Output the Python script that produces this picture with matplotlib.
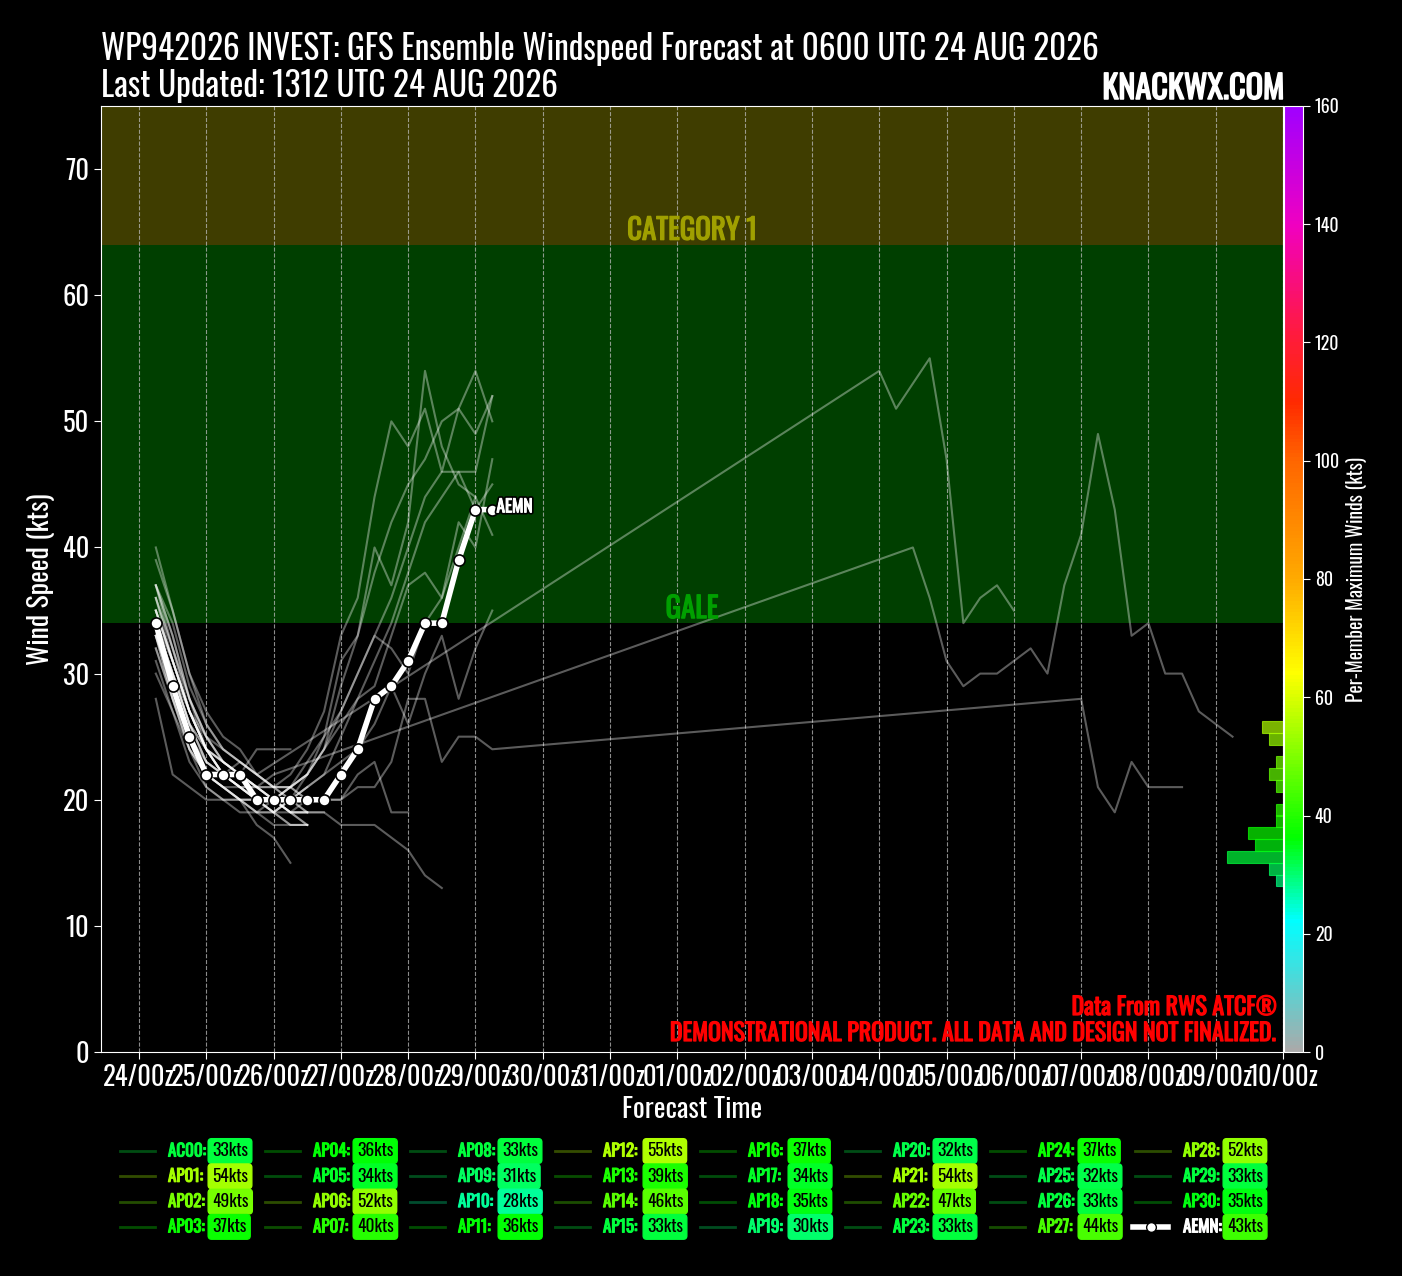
import matplotlib
matplotlib.use("Agg")
import matplotlib.pyplot as plt
import matplotlib.dates as mdates
import matplotlib.patheffects as pe
from matplotlib import font_manager
from matplotlib.colors import LinearSegmentedColormap, Normalize
from matplotlib.cm import ScalarMappable
from matplotlib.lines import Line2D
import numpy as np
from datetime import datetime, timedelta

init = datetime(2026, 8, 24, 6)

names = ['AC00', 'AP01', 'AP02', 'AP03', 'AP04', 'AP05', 'AP06', 'AP07',
         'AP08', 'AP09', 'AP10', 'AP11', 'AP12', 'AP13', 'AP14', 'AP15',
         'AP16', 'AP17', 'AP18', 'AP19', 'AP20', 'AP21', 'AP22', 'AP23',
         'AP24', 'AP25', 'AP26', 'AP27', 'AP28', 'AP29', 'AP30']
peaks = [33, 54, 49, 37, 36, 34, 52, 40, 33, 31, 28, 36, 55, 39, 46, 33,
         37, 34, 35, 30, 32, 54, 47, 33, 37, 32, 33, 44, 52, 33, 35]

# member winds (kts), six-hourly from 0600 UTC 24 AUG unless hours given
ac00 = [33, 28, 24, 22, 21, 20, 20, 19, 18, 18]
ap01 = [34, 30, 26, 23, 22, 22, 21, 20, 20, 22, 25, 31, 33, 40, 37, 42, 54, 48, 45, 44, 41]
ap02 = [36, 31, 27, 24, 22, 21, 21, 22, 40, 36, 31, 29, 30, 30, 31, 32, 30, 37,
        41, 49, 43, 33, 34, 30, 30, 27, 26, 25]
ap02_hours = [0, 6, 12, 18, 24, 30, 36, 42, 270, 276, 282, 288, 294, 300, 306, 312,
              318, 324, 330, 336, 342, 348, 354, 360, 366, 372, 378, 384]
ap03 = [37, 33, 28, 25, 23, 22, 21, 20, 19, 18]
ap04 = [36, 32, 27, 24, 23, 22, 20, 19, 20, 19]
ap05 = [34, 30, 26, 24, 22, 23, 22, 21, 20, 20]
ap06 = [35, 31, 27, 25, 24, 23, 22, 21, 21, 22, 24, 27, 30, 33, 36, 40, 44, 46, 46, 46, 52]
ap07 = [40, 35, 30, 26, 24, 23, 22, 21, 20, 19, 19]
ap08 = [33, 28, 24, 21, 20, 20, 19, 18, 18, 18]
ap09 = [31, 27, 23, 21, 20, 20, 19, 19, 20, 21]
ap10 = [28, 22, 21, 20, 20, 19, 19, 19, 20, 20, 20, 20, 21, 21, 23, 28, 28, 23, 25, 25,
        24, 28, 21, 19, 23, 21, 21, 21]
ap10_hours = [0, 6, 12, 18, 24, 30, 36, 42, 48, 54, 60, 66, 72, 78, 84, 90, 96, 102,
              108, 114, 120, 330, 336, 342, 348, 354, 360, 366]
ap11 = [36, 32, 28, 25, 23, 22, 21, 20, 20, 21, 22, 23, 24, 26, 29, 26, 30, 33, 28, 32, 35]
ap12 = [37, 34, 29, 26, 24, 23, 22, 54, 51, 53, 55, 47, 34, 36, 37, 35]
ap12_hours = [0, 6, 12, 18, 24, 30, 36, 258, 264, 270, 276, 282, 288, 294, 300, 306]
ap13 = [39, 35, 30, 27, 25, 24, 22, 21, 21, 20, 20]
ap14 = [35, 31, 27, 24, 22, 21, 21, 20, 21, 22, 24, 26, 28, 31, 34, 38, 42, 44, 46, 43, 45]
ap15 = [33, 29, 25, 23, 22, 21, 20, 20, 19, 19]
ap16 = [37, 33, 28, 24, 22, 21, 20, 20, 21, 22]
ap17 = [34, 30, 27, 24, 22, 21, 20, 19, 18, 18]
ap18 = [35, 31, 27, 24, 23, 22, 24, 24, 24]
ap19 = [30, 27, 24, 22, 21, 20, 20, 19, 19, 19]
ap20 = [32, 28, 25, 22, 21, 20, 18, 17, 15]
ap21 = [34, 31, 27, 24, 23, 22, 21, 21, 22, 24, 27, 33, 36, 44, 50, 48, 51, 46, 51, 54, 50]
ap22 = [34, 30, 26, 24, 22, 21, 20, 20, 20, 21, 22, 25, 28, 29, 33, 37, 38, 36, 42, 40, 47]
ap23 = [33, 29, 25, 22, 21, 20, 20, 19, 20, 20]
ap24 = [37, 32, 28, 25, 23, 22, 21, 20, 19, 19]
ap25 = [32, 28, 24, 22, 21, 21, 20, 20, 19, 18]
ap26 = [33, 30, 26, 23, 22, 21, 20, 20, 21, 20]
ap27 = [34, 30, 26, 23, 22, 22, 21, 20, 21, 23, 25, 27, 30, 33, 32, 30, 34, 36, 40, 44]
ap28 = [35, 31, 27, 24, 23, 22, 21, 21, 21, 22, 24, 29, 33, 38, 42, 45, 47, 50, 51, 49, 52]
ap29 = [33, 29, 25, 22, 21, 20, 19, 20, 19, 19, 19, 18, 18, 18, 17, 16, 14, 13]
ap30 = [35, 31, 27, 24, 22, 21, 20, 20, 19, 20, 20, 20, 22, 23, 19, 19]

aemn = [34, 29, 25, 22, 22, 22, 20, 20, 20, 20, 20, 22, 24, 28, 29, 31, 34, 34, 39, 43, 43]
aemn_peak = 43

tracks = [ac00, ap01, ap02, ap03, ap04, ap05, ap06, ap07, ap08, ap09, ap10, ap11,
          ap12, ap13, ap14, ap15, ap16, ap17, ap18, ap19, ap20, ap21, ap22, ap23,
          ap24, ap25, ap26, ap27, ap28, ap29, ap30]
track_hours = {2: ap02_hours, 10: ap10_hours, 12: ap12_hours}

cb_levels = [0, 22, 36, 64, 80, 100, 110, 122, 140, 160]
cb_colors = ['#aaaaaa', '#00ffff', '#00ff00', '#ffff00', '#ffaa00', '#ff6600',
             '#ff2a00', '#ff1a40', '#f000c0', '#a000ff']


# pick a narrow sans face if one is installed
def pick_font():
    ttf = font_manager.fontManager.ttflist
    have = {f.name for f in ttf}
    for nm in ['Oswald', 'Roboto Condensed', 'Noto Sans ExtraCondensed', 'Noto Sans Condensed',
               'Liberation Sans Narrow', 'Open Sans Condensed', 'DejaVu Sans Condensed']:
        if nm in have:
            return nm, 'normal'
    for fam in ['Noto Sans', 'Roboto', 'Open Sans', 'DejaVu Sans']:
        for st in ['extra-condensed', 'condensed', 'semi-condensed']:
            if any(f.name == fam and f.stretch == st for f in ttf):
                return fam, st
    return 'DejaVu Sans', 'normal'

fam, stretch = pick_font()
plt.rcParams['font.family'] = [fam, 'DejaVu Sans']
plt.rcParams['font.stretch'] = stretch
weights = set()
for f in font_manager.fontManager.ttflist:
    if f.name == fam:
        weights.add(f.weight if isinstance(f.weight, int) else
                    font_manager.weight_dict.get(f.weight, 400))
has_bold = any(wt >= 600 for wt in weights)
light = 'light' if any(wt <= 300 for wt in weights) else 'normal'


def heavy(color, lw=0.9):
    # thicken glyphs when no bold face is installed
    if has_bold:
        return [pe.Normal()]
    return [pe.withStroke(linewidth=lw, foreground=color)]


cmap = LinearSegmentedColormap.from_list('wind', list(zip(np.array(cb_levels) / 160, cb_colors)))
norm = Normalize(0, 160)

W, H = 1402, 1276
def fx(px):
    return px / W
def fy(py):
    return 1 - py / H

fig = plt.figure(figsize=(W / 100, H / 100), dpi=100, facecolor='black')
renderer = fig.canvas.get_renderer()

def fit(s, target, cap, weight='normal'):
    t = fig.text(0, 0, s, fontsize=20, fontweight=weight)
    w = t.get_window_extent(renderer).width
    t.remove()
    return min(20 * target / w, cap)

ax = fig.add_axes([fx(101), fy(1052), fx(1283) - fx(101), fy(106) - fy(1052)])
ax.set_facecolor('black')

ax.axhspan(34, 64, color='#003f00', zorder=0, lw=0)
ax.axhspan(64, 200, color='#3f3d00', zorder=0, lw=0)

for i, tr in enumerate(tracks):
    hrs = track_hours.get(i, list(range(0, 6 * len(tr), 6)))
    t = [init + timedelta(hours=h) for h in hrs]
    ax.plot(t, tr, color='white', alpha=0.36, lw=1.5, zorder=2)

t_aemn = [init + timedelta(hours=h) for h in range(0, 6 * len(aemn), 6)]
ax.plot(t_aemn, aemn, color='white', lw=4, marker='o', ms=8, mfc='white',
        mec='black', mew=1.2, zorder=5)
ax.annotate('AEMN', (t_aemn[-1], aemn[-1]), xytext=(3, 2), textcoords='offset points',
            color='white', fontsize=fit('AEMN', 36, 13, 'bold'), fontweight='bold',
            va='center', zorder=6,
            path_effects=[pe.withStroke(linewidth=3.2, foreground='black'),
                          pe.withStroke(linewidth=0.7, foreground='white')])

xmin = datetime(2026, 8, 23, 10, 27)
xmax = datetime(2026, 9, 10, 0)

band_size = fit('CATEGORY 1', 130, 24, 'bold')
ax.text(0.5, 64.4, 'CATEGORY 1', transform=ax.get_yaxis_transform(), ha='center',
        va='baseline', color='#a0a000', fontsize=band_size, fontweight='bold',
        path_effects=heavy('#a0a000'))
ax.text(0.5, 34.4, 'GALE', transform=ax.get_yaxis_transform(), ha='center',
        va='baseline', color='#00a000', fontsize=band_size, fontweight='bold',
        path_effects=heavy('#00a000'))

tick_size = fit('24/00z', 72, 22, light)
lab_size = fit('Forecast Time', 140, 24)
ax.set_ylim(0, 75)
ax.set_yticks(range(0, 80, 10))
ax.xaxis.set_major_locator(mdates.DayLocator())
ax.xaxis.set_major_formatter(mdates.DateFormatter('%d/%Hz'))
ax.grid(axis='x', color='#bbbbbb', ls='--', lw=0.8, alpha=0.75)
ax.tick_params(colors='white', labelsize=tick_size, length=5)
for lab in ax.get_xticklabels() + ax.get_yticklabels():
    lab.set_fontweight(light)
for s in ax.spines.values():
    s.set_color('white')
ax.set_ylabel('Wind Speed (kts)', color='white', fontsize=lab_size, labelpad=5)
ax.set_xlabel('Forecast Time', color='white', fontsize=lab_size)

# histogram of member peaks, in colour-bar units
ax_h = ax.twinx()
ax_h.set_ylim(0, 160)
ax_h.axis('off')
counts, edges = np.histogram(peaks, bins=np.arange(0, 162, 2))
w = 2.5 / 24
xr = mdates.date2num(xmax)
for c, e in zip(counts, edges[:-1]):
    if c == 0:
        continue
    col = cmap(norm(e + 1))
    ax_h.barh(e + 1, c * w, left=xr - c * w, height=2, color=col, alpha=0.7,
              edgecolor=col, lw=0.8, zorder=3)
ax.set_xlim(xmin, xmax)

cax = fig.add_axes([fx(1284), fy(1052), fx(1303) - fx(1284), fy(106) - fy(1052)])
cb = fig.colorbar(ScalarMappable(norm=norm, cmap=cmap), cax=cax)
cb.set_ticks(range(0, 180, 20))
cb.outline.set_edgecolor('white')
cax.tick_params(colors='white', labelsize=fit('160', 25, 18, light), length=5)
for lab in cax.get_yticklabels():
    lab.set_fontweight(light)
cb.set_label('Per-Member Maximum Winds (kts)', color='white',
             fontsize=fit('Per-Member Maximum Winds (kts)', 245, 15))

title1 = 'WP942026 INVEST: GFS Ensemble Windspeed Forecast at 0600 UTC 24 AUG 2026'
title_size = fit(title1, 1000, 28)
fig.text(fx(101), fy(60), title1, color='white', fontsize=title_size, va='baseline')
fig.text(fx(101), fy(97), 'Last Updated: 1312 UTC 24 AUG 2026',
         color='white', fontsize=title_size, va='baseline')
fig.text(fx(1284), fy(99), 'KNACKWX.COM', color='white',
         fontsize=fit('KNACKWX.COM', 182, 26, 'bold'),
         fontweight='bold', ha='right', va='baseline', path_effects=heavy('white', 1.1))

red1 = 'DEMONSTRATIONAL PRODUCT. ALL DATA AND DESIGN NOT FINALIZED.'
red_size = fit(red1, 605, 18, 'bold')
fig.text(fx(1277), fy(1015), 'Data From RWS ATCF\u00ae', color='red', fontsize=red_size,
         fontweight='bold', ha='right', va='baseline', path_effects=heavy('red'))
fig.text(fx(1275), fy(1041), red1, color='red', fontsize=red_size, fontweight='bold',
         ha='right', va='baseline', path_effects=heavy('red'))

# legend, four rows per column
leg_size = fit('AC00:', 38, 14, 'bold')
val_size = fit('33kts', 36, 14)
entries = list(zip(names, peaks)) + [('AEMN', aemn_peak)]
for i, (nm, pk) in enumerate(entries):
    col, row = divmod(i, 4)
    x0 = 120 + col * 145
    y0 = 1151 + row * 25.3
    c = cmap(norm(pk))
    if nm == 'AEMN':
        fig.add_artist(Line2D([fx(x0 - 2), fx(x0 + 33)], [fy(y0), fy(y0)], color='white',
                              lw=4))
        fig.add_artist(Line2D([fx(x0 + 15.5)], [fy(y0)], color='white', marker='o', ms=7,
                              mfc='white', mec='black', mew=1, lw=0))
        lab_col = 'white'
    else:
        fig.add_artist(Line2D([fx(x0), fx(x0 + 35)], [fy(y0), fy(y0)], color=c,
                              alpha=0.3, lw=2))
        lab_col = c
    fig.text(fx(x0 + 48), fy(y0), nm + ':', color=lab_col, fontsize=leg_size,
             fontweight='bold', va='center', path_effects=heavy(lab_col, 0.8))
    fig.text(fx(x0 + 92), fy(y0), '%dkts' % pk, color='black', fontsize=val_size,
             va='center',
             bbox=dict(boxstyle='round,pad=0.22,rounding_size=0.2', fc=c, ec=c))

fig.savefig('out.png', dpi=100, facecolor='black')
